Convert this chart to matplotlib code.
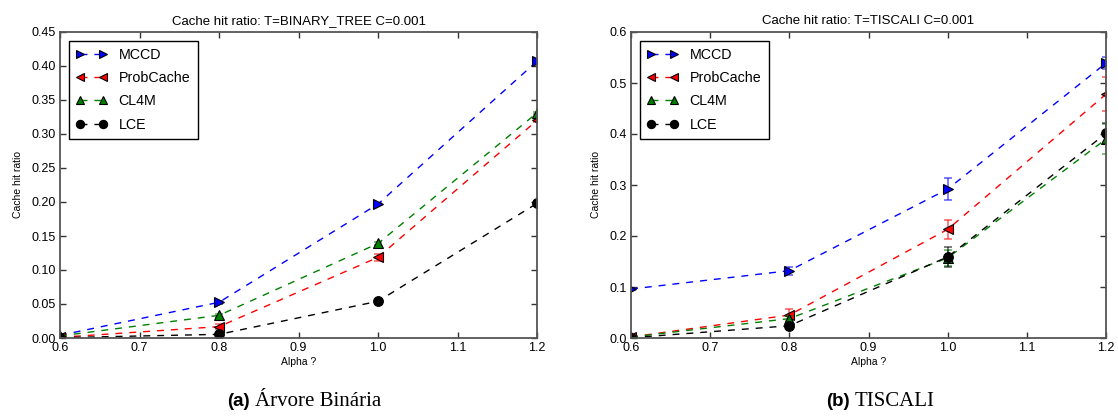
import matplotlib
matplotlib.use("Agg")
import matplotlib.pyplot as plt
import numpy as np

plt.rcParams['font.family'] = ['Liberation Sans', 'DejaVu Sans']

alpha = [0.6, 0.8, 1.0, 1.2]
series_names = ["MCCD", "ProbCache", "CL4M", "LCE"]

# Binary tree
bt_mccd = [0.004, 0.0525, 0.197, 0.407]
bt_prob = [0.001, 0.0167, 0.1186, 0.320]
bt_cl4m = [0.003, 0.0333, 0.139, 0.331]
bt_lce = [0.0005, 0.0054, 0.054, 0.198]
bt_mccd_err = [0.001, 0.002, 0.002, 0.002]
bt_prob_err = [0.001, 0.004, 0.005, 0.003]
bt_cl4m_err = [0.001, 0.002, 0.002, 0.002]
bt_lce_err = [0.0005, 0.001, 0.002, 0.002]

# Tiscali
ti_mccd = [0.096, 0.132, 0.292, 0.539]
ti_prob = [0.002, 0.045, 0.213, 0.478]
ti_cl4m = [0.002, 0.038, 0.157, 0.390]
ti_lce = [0.0005, 0.024, 0.159, 0.401]
ti_mccd_err = [0.002, 0.008, 0.022, 0.012]
ti_prob_err = [0.002, 0.011, 0.018, 0.033]
ti_cl4m_err = [0.002, 0.006, 0.015, 0.030]
ti_lce_err = [0.001, 0.005, 0.020, 0.020]

colors = ['blue', 'red', 'green', 'black']
markers = ['>', '<', '^', 'o']

fig = plt.figure(figsize=(11.18, 4.19), dpi=100)
ax1 = fig.add_axes([60/1118, 1-338/419, 477/1118, 306/419])
ax2 = fig.add_axes([631/1118, 1-338/419, 475/1118, 306/419])

def draw(ax, vals, errs, title, ylim, yticks, yfmt):
    for v, e, c, m, n in zip(vals, errs, colors, markers, series_names):
        ax.errorbar(alpha, v, yerr=e, fmt='none', ecolor=c, alpha=0.55,
                    capsize=3, elinewidth=1.3, capthick=1.3)
        ax.plot(alpha, v, linestyle='--', color=c, marker=m, markersize=7,
                markerfacecolor=c, markeredgecolor='black', markeredgewidth=0.8,
                linewidth=1.0, dashes=(5, 5), label=n)
    ax.set_xlim(0.6, 1.2)
    ax.set_ylim(*ylim)
    ax.set_xticks(np.round(np.arange(0.6, 1.21, 0.1), 1))
    ax.set_xticklabels([f"{t:.1f}" for t in np.arange(0.6, 1.21, 0.1)])
    ax.set_yticks(yticks)
    ax.set_yticklabels([yfmt.format(t) for t in yticks])
    ax.tick_params(direction='in', top=True, right=True, labelsize=9,
                   length=4, width=1, color='#333333', pad=3)
    for s in ax.spines.values():
        s.set_color('#555555')
        s.set_linewidth(1.3)
    ax.set_title(title, fontsize=9.5, pad=6)
    ax.set_xlabel("Alpha ?", fontsize=7.5, labelpad=2)
    ax.set_ylabel("Cache hit ratio", fontsize=7.5, labelpad=6)
    leg = ax.legend(loc='upper left', numpoints=2, fontsize=10.3, fancybox=False,
                    framealpha=1, edgecolor='black', handlelength=2.2,
                    borderpad=0.5, labelspacing=0.65, handletextpad=0.8,
                    borderaxespad=0.6, markerscale=0.85)
    leg.get_frame().set_linewidth(1.0)

draw(ax1, [bt_mccd, bt_prob, bt_cl4m, bt_lce],
     [bt_mccd_err, bt_prob_err, bt_cl4m_err, bt_lce_err],
     "Cache hit ratio: T=BINARY_TREE C=0.001", (0, 0.45),
     [round(0.05*i, 2) for i in range(10)], "{:.2f}")
draw(ax2, [ti_mccd, ti_prob, ti_cl4m, ti_lce],
     [ti_mccd_err, ti_prob_err, ti_cl4m_err, ti_lce_err],
     "Cache hit ratio: T=TISCALI C=0.001", (0, 0.6),
     [round(0.1*i, 1) for i in range(7)], "{:.1f}")

# captions
cy = 1 - 401/419
fig.text(250/1118, cy, "(a)", fontsize=13.5, fontweight='bold',
         family='Liberation Sans', ha='right', va='center')
fig.text(255/1118, cy, "Árvore Binária", fontsize=15,
         family='Liberation Serif', ha='left', va='center')
fig.text(850/1118, cy, "(b)", fontsize=13.5, fontweight='bold',
         family='Liberation Sans', ha='right', va='center')
fig.text(855/1118, cy, "TISCALI", fontsize=15,
         family='Liberation Serif', ha='left', va='center')

fig.savefig("out.png", dpi=100)
